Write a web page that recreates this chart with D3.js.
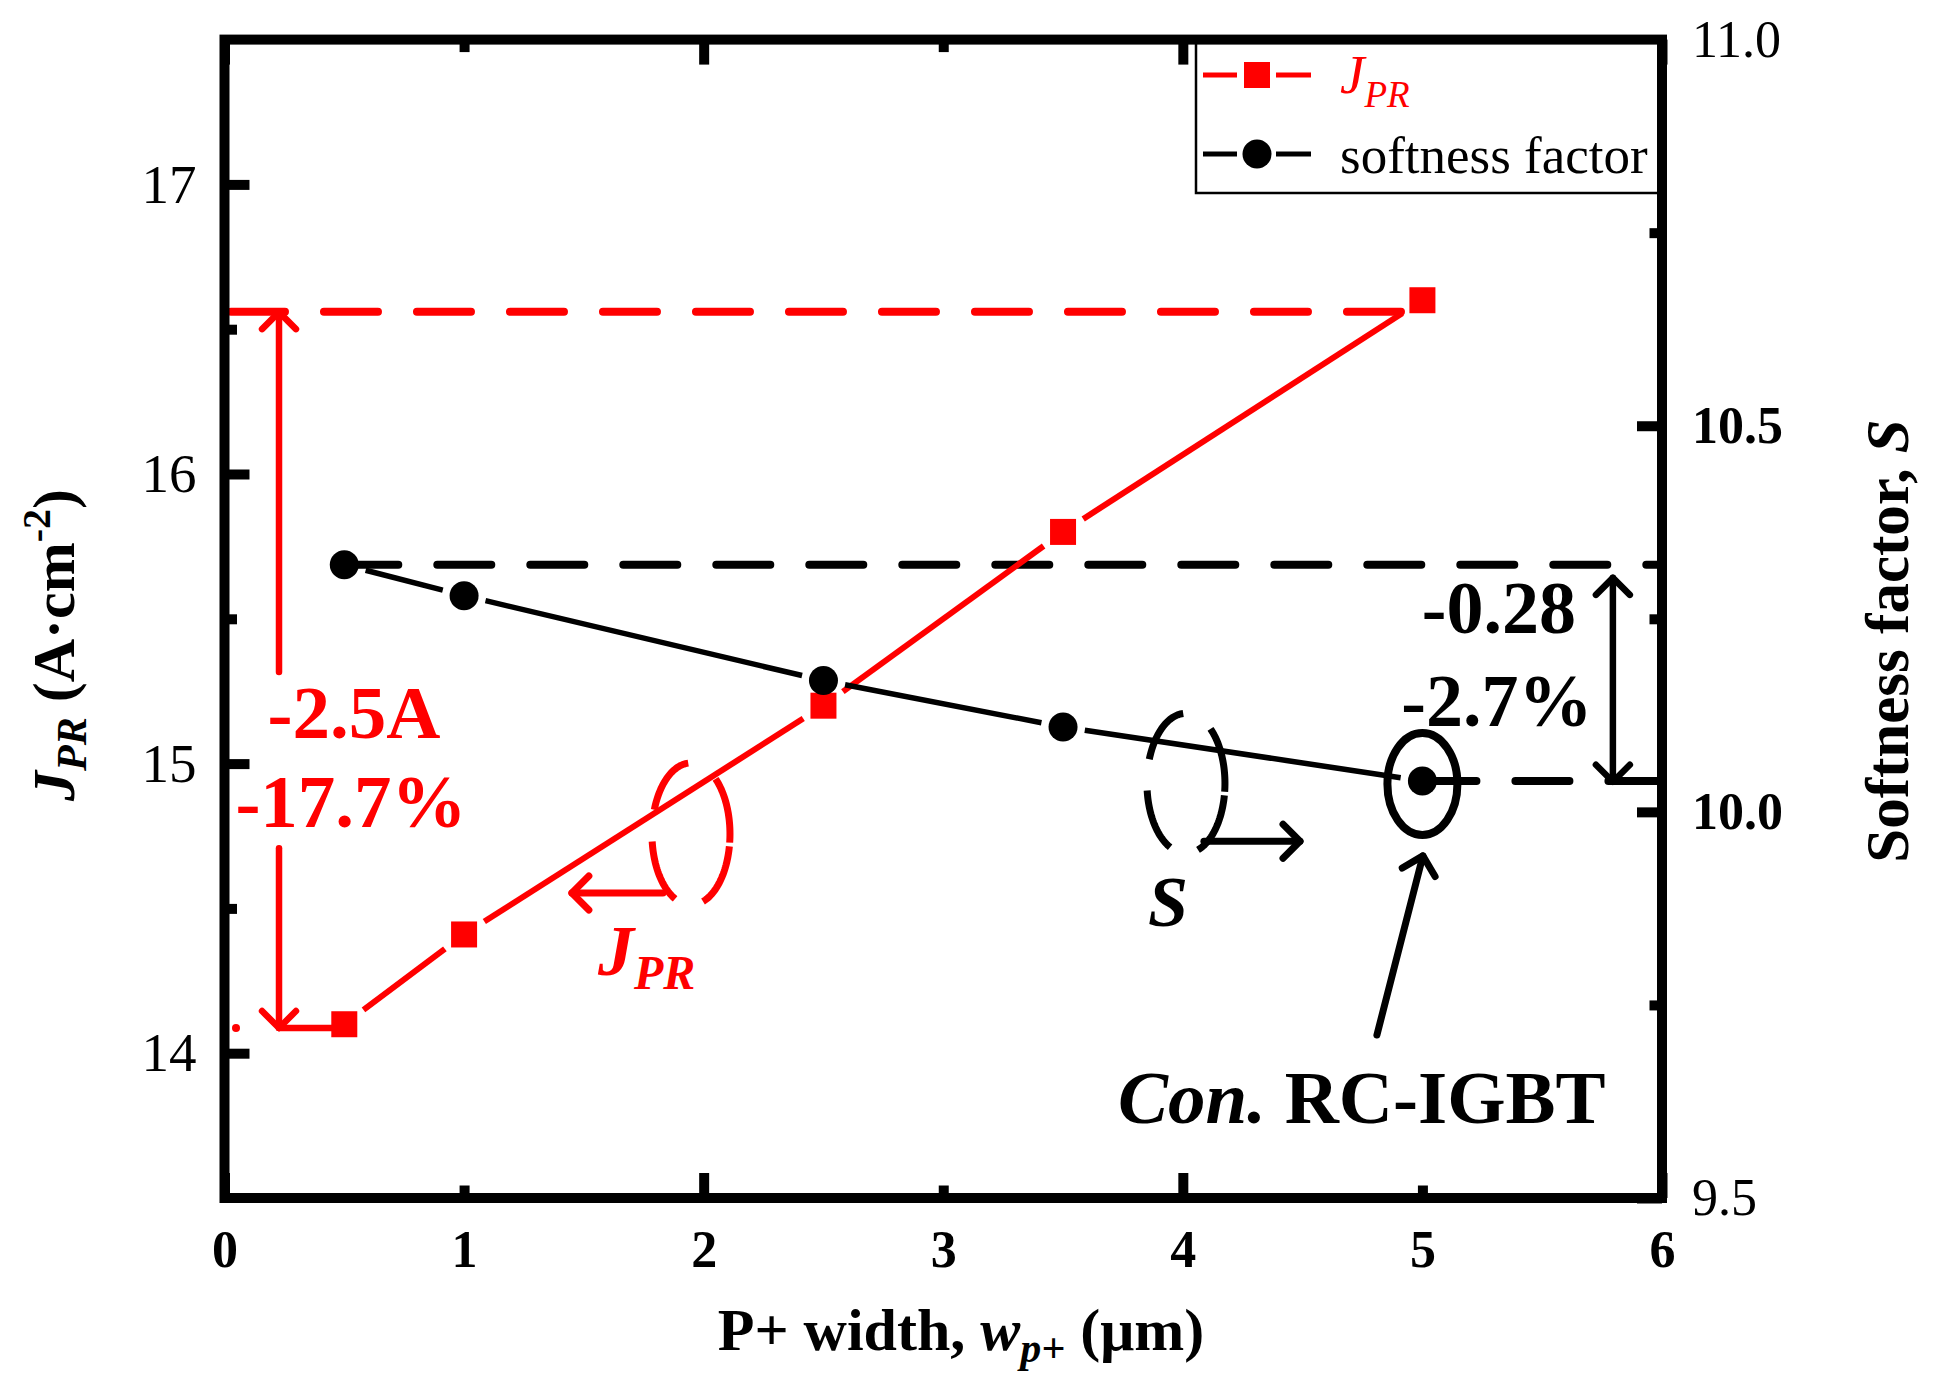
<!DOCTYPE html>
<html><head><meta charset="utf-8">
<script src="https://cdn.jsdelivr.net/npm/d3@7/dist/d3.min.js"></script>
<style>
body{margin:0;background:#fff}
svg{display:block}
text{font-family:"Liberation Serif","Times New Roman",serif}
</style>
</head><body>
<svg id="c" width="1934" height="1384"></svg>
<script>
// ---------- data ----------
const xValues = [0.5, 1, 2.5, 3.5, 5];
const jprValues = [14.10, 14.41, 15.20, 15.80, 16.60];
const softnessValues = [10.32, 10.28, 10.17, 10.11, 10.04];
const xTicks = [0, 1, 2, 3, 4, 5, 6];
const xMinor = [1, 3, 5];
const leftTicks = [14, 14.5, 15, 15.5, 16, 16.5, 17];
const rightTicks = [9.5, 9.75, 10, 10.25, 10.5, 10.75, 11];
const rightBold = [10, 10.5];
const jprGuideLevel = 16.56;

// ---------- setup ----------
const W = 1934, H = 1384;
const L = 224.5, R = 1662, T = 39.6, B = 1198;
const RED = '#ff0000', BLK = '#000';
const FONT = '"Liberation Serif","Times New Roman",serif';
const svg = d3.select('#c');
svg.append('rect').attr('width', W).attr('height', H).attr('fill', '#fff');

const x = d3.scaleLinear().domain([0, 6]).range([L, R]);
const yL = d3.scaleLinear().domain([13.5, 17.5]).range([B, T]);
const yR = d3.scaleLinear().domain([9.5, 11]).range([B, T]);

const g = svg.append('g');
const lineGen = d3.line();

function dashedLine(x1, y1, x2, y2, color) {
  g.append('path').attr('d', lineGen([[x1, y1], [x2, y2]]))
    .attr('stroke', color).attr('stroke-width', 8).attr('fill', 'none')
    .attr('stroke-dasharray', '54,39').attr('stroke-linecap', 'round');
}
function solidLine(x1, y1, x2, y2, color, w) {
  g.append('path').attr('d', lineGen([[x1, y1], [x2, y2]]))
    .attr('stroke', color).attr('stroke-width', w).attr('fill', 'none')
    .attr('stroke-linecap', 'round');
}
function head(tx, ty, fx, fy, color, w) {
  const a = Math.atan2(ty - fy, tx - fx), Lh = 24;
  const p1 = [tx - Lh * Math.cos(a - Math.PI / 4), ty - Lh * Math.sin(a - Math.PI / 4)];
  const p2 = [tx - Lh * Math.cos(a + Math.PI / 4), ty - Lh * Math.sin(a + Math.PI / 4)];
  g.append('path').attr('d', lineGen([p1, [tx, ty], p2]))
    .attr('stroke', color).attr('stroke-width', w).attr('fill', 'none')
    .attr('stroke-linecap', 'round').attr('stroke-linejoin', 'round');
}
function arrow(x1, y1, x2, y2, color, w) {
  solidLine(x1, y1, x2, y2, color, w);
  head(x2, y2, x1, y1, color, w);
}
function dashedEllipse(cx, cy, rx, ry, color, arcs) {
  arcs.forEach(([a0, a1]) => {
    const pts = d3.range(a0, a1 + 0.001, 2).map(d => {
      const t = d * Math.PI / 180;
      return [cx + rx * Math.cos(t), cy + ry * Math.sin(t)];
    });
    g.append('path').attr('d', lineGen(pts)).attr('stroke', color)
      .attr('stroke-width', 7).attr('fill', 'none').attr('stroke-linecap', 'butt');
  });
}
function gapSegments(pts, gap) {
  const segs = [];
  for (let i = 0; i < pts.length - 1; i++) {
    const [x1, y1] = pts[i], [x2, y2] = pts[i + 1];
    const dx = x2 - x1, dy = y2 - y1, len = Math.hypot(dx, dy);
    const ux = dx / len, uy = dy / len;
    segs.push([[x1 + ux * gap, y1 + uy * gap], [x2 - ux * gap, y2 - uy * gap]]);
  }
  return segs;
}
function richText(parent, px, py, parts, opts) {
  const t = parent.append('text').attr('x', px).attr('y', py)
    .attr('font-family', FONT).attr('fill', opts.fill || BLK)
    .attr('font-size', opts.size).attr('text-anchor', opts.anchor || 'start');
  if (opts.transform) t.attr('transform', opts.transform);
  parts.forEach(p => {
    const s = t.append('tspan').text(p.t);
    if (p.italic) s.attr('font-style', 'italic');
    if (p.bold !== undefined ? p.bold : opts.bold) s.attr('font-weight', 'bold');
    if (p.size) s.attr('font-size', p.size);
    if (p.dy) s.attr('dy', p.dy);
  });
  return t;
}

// ---------- guide lines ----------
const jprPts = xValues.map((d, i) => [x(d), yL(jprValues[i])]);
const sPts = xValues.map((d, i) => [x(d), yR(softnessValues[i])]);
const xi = xValues[3] + (jprGuideLevel - jprValues[3]) / (jprValues[4] - jprValues[3]) * (xValues[4] - xValues[3]);
dashedLine(x(0.027), yL(jprGuideLevel), x(xi), yL(jprGuideLevel), RED);
dashedLine(x(xValues[0]), yR(softnessValues[0]), x(6), yR(softnessValues[0]), BLK);
dashedLine(x(xValues[4]), yR(softnessValues[4]), x(6), yR(softnessValues[4]), BLK);

// ---------- data lines ----------
gapSegments(jprPts, 24).forEach(s => {
  g.append('path').attr('d', lineGen(s)).attr('stroke', RED).attr('stroke-width', 6).attr('fill', 'none');
});
gapSegments(sPts, 22).forEach(s => {
  g.append('path').attr('d', lineGen(s)).attr('stroke', BLK).attr('stroke-width', 5.5).attr('fill', 'none');
});

// ---------- red annotations ----------
const ax = x(0.2275);
arrow(ax, yL(15.316), ax, yL(16.559), RED, 6.5);
arrow(ax, yL(14.708), ax, yL(14.087), RED, 6.5);
solidLine(ax, yL(14.087), x(xValues[0]), yL(14.087), RED, 6.5);
g.append('circle').attr('cx', x(0.048)).attr('cy', yL(14.087)).attr('r', 4).attr('fill', RED);
richText(g, x(0.54), yL(15.09), [{t: '-2.5A'}], {size: 75, bold: true, fill: RED, anchor: 'middle'});
richText(g, x(0.528), yL(14.78), [{t: '-17.7%'}], {size: 75, bold: true, fill: RED, anchor: 'middle'});

const ellArcs = [[-160, -94], [114, 174], [10, 72], [-51, 8]];
dashedEllipse(x(1.947), yL(14.757), 39, 71, RED, ellArcs);
arrow(x(1.83), yL(14.553), x(1.45), yL(14.553), RED, 7);
richText(g, x(1.559), yL(14.27), [
  {t: 'J', italic: true},
  {t: 'PR', italic: true, size: 48, dy: 14}
], {size: 72, bold: true, fill: RED});

// ---------- black annotations ----------
dashedEllipse(x(4.013), yR(10.037), 39, 70, BLK, ellArcs);
arrow(x(4.088), yR(9.962), x(4.489), yR(9.962), BLK, 7);
richText(g, x(3.938), yR(9.852), [{t: 'S', italic: true}], {size: 72, bold: true, anchor: 'middle'});

g.append('ellipse').attr('cx', x(xValues[4])).attr('cy', yR(softnessValues[4]) + 3)
  .attr('rx', 35).attr('ry', 51).attr('fill', 'none').attr('stroke', BLK).attr('stroke-width', 8);
arrow(x(4.81), yR(9.711), x(5.002), yR(9.943), BLK, 7);
richText(g, x(3.729), yR(9.597), [
  {t: 'Con.', italic: true},
  {t: ' RC-IGBT'}
], {size: 75, bold: true});

const bx = x(5.795);
solidLine(bx, yR(10.303), bx, yR(10.039), BLK, 6.5);
head(bx, yR(10.303), bx, yR(10.039), BLK, 6.5);
head(bx, yR(10.039), bx, yR(10.303), BLK, 6.5);
richText(g, x(5.319), yR(10.232), [{t: '-0.28'}], {size: 74, bold: true, anchor: 'middle'});
richText(g, x(5.311), yR(10.111), [{t: '-2.7%'}], {size: 74, bold: true, anchor: 'middle'});

// ---------- markers ----------
g.selectAll('rect.jpr').data(xValues).join('rect').attr('class', 'jpr')
  .attr('x', d => x(d) - 13).attr('y', (d, i) => yL(jprValues[i]) - 13)
  .attr('width', 26).attr('height', 26).attr('fill', RED);
g.selectAll('circle.sf').data(xValues).join('circle').attr('class', 'sf')
  .attr('cx', d => x(d)).attr('cy', (d, i) => yR(softnessValues[i]))
  .attr('r', 14.5).attr('fill', BLK);

// ---------- axes ----------
function styleTicks(sel) {
  sel.select('.domain').remove();
  sel.selectAll('.tick line').attr('stroke', BLK).attr('stroke-width', 10);
  sel.selectAll('.tick text').attr('font-family', FONT).attr('fill', BLK);
}
const gb = svg.append('g').attr('transform', `translate(0,${B})`)
  .call(d3.axisBottom(x).tickValues(xTicks).tickSize(-25).tickSizeOuter(0).tickFormat(d3.format('d')));
styleTicks(gb);
gb.selectAll('.tick line').attr('y2', d => xMinor.includes(d) ? -12.5 : -25);
gb.selectAll('.tick text').attr('y', 69).attr('dy', 0).attr('font-size', 52).attr('font-weight', 'bold');

const gt = svg.append('g').attr('transform', `translate(0,${T})`)
  .call(d3.axisTop(x).tickValues(xTicks).tickSize(-25).tickSizeOuter(0).tickFormat(''));
styleTicks(gt);
gt.selectAll('.tick line').attr('y2', d => xMinor.includes(d) ? 12.5 : 25);

const gl = svg.append('g').attr('transform', `translate(${L},0)`)
  .call(d3.axisLeft(yL).tickValues(leftTicks).tickSize(-25).tickSizeOuter(0).tickPadding(28)
    .tickFormat(d => Number.isInteger(d) ? d3.format('d')(d) : ''));
styleTicks(gl);
gl.selectAll('.tick line').attr('x2', d => Number.isInteger(d) ? 25 : 12.5);
gl.selectAll('.tick text').attr('font-size', 55);

const gr = svg.append('g').attr('transform', `translate(${R},0)`)
  .call(d3.axisRight(yR).tickValues(rightTicks).tickSize(-25).tickSizeOuter(0).tickPadding(30)
    .tickFormat(d => (Math.round(d * 100) % 50 === 0) ? d3.format('.1f')(d) : ''));
styleTicks(gr);
gr.selectAll('.tick line').attr('x2', d => (Math.round(d * 100) % 50 === 0) ? -25 : -12.5);
gr.selectAll('.tick text').attr('font-size', 52)
  .attr('font-weight', d => rightBold.includes(d) ? 'bold' : 'normal');

// ---------- legend ----------
const lg = svg.append('g');
lg.append('rect').attr('x', 1196).attr('y', T).attr('width', R - 1196).attr('height', 193 - T)
  .attr('fill', '#fff').attr('stroke', BLK).attr('stroke-width', 2.5);
const legendItems = [
  {color: RED, y: 75, shape: 'square'},
  {color: BLK, y: 154, shape: 'circle'}
];
legendItems.forEach(it => {
  lg.append('path').attr('d', lineGen([[1203, it.y], [1237, it.y]])).attr('stroke', it.color).attr('stroke-width', 5);
  lg.append('path').attr('d', lineGen([[1276, it.y], [1311, it.y]])).attr('stroke', it.color).attr('stroke-width', 5);
  if (it.shape === 'square') lg.append('rect').attr('x', 1257 - 13).attr('y', it.y - 13).attr('width', 26).attr('height', 26).attr('fill', it.color);
  else lg.append('circle').attr('cx', 1257).attr('cy', it.y).attr('r', 14.5).attr('fill', it.color);
});
richText(lg, 1340, 93, [
  {t: 'J', italic: true},
  {t: 'PR', italic: true, size: 37, dy: 14}
], {size: 55, fill: RED});
richText(lg, 1340, 173, [{t: 'softness factor'}], {size: 53});

// ---------- frame ----------
svg.append('rect').attr('x', L).attr('y', T).attr('width', R - L).attr('height', B - T)
  .attr('fill', 'none').attr('stroke', BLK).attr('stroke-width', 10).attr('stroke-linejoin', 'miter');

// ---------- axis titles ----------
richText(svg, 961, 1350, [
  {t: 'P+ width, '},
  {t: 'w', italic: true},
  {t: 'p+', italic: true, size: 42, dy: 12},
  {t: ' (μm)', dy: -12}
], {size: 60, bold: true, anchor: 'middle'});

richText(svg, 74, 645, [
  {t: 'J', italic: true},
  {t: 'PR', italic: true, size: 42, dy: 12},
  {t: ' (A·cm', dy: -12},
  {t: '-2', size: 40, dy: -24},
  {t: ')', dy: 24}
], {size: 60, bold: true, anchor: 'middle', transform: 'rotate(-90,74,645)'});

richText(svg, 1908, 641, [
  {t: 'Softness factor, '},
  {t: 'S', italic: true}
], {size: 61, bold: true, anchor: 'middle', transform: 'rotate(-90,1908,641)'});
</script>
</body></html>
